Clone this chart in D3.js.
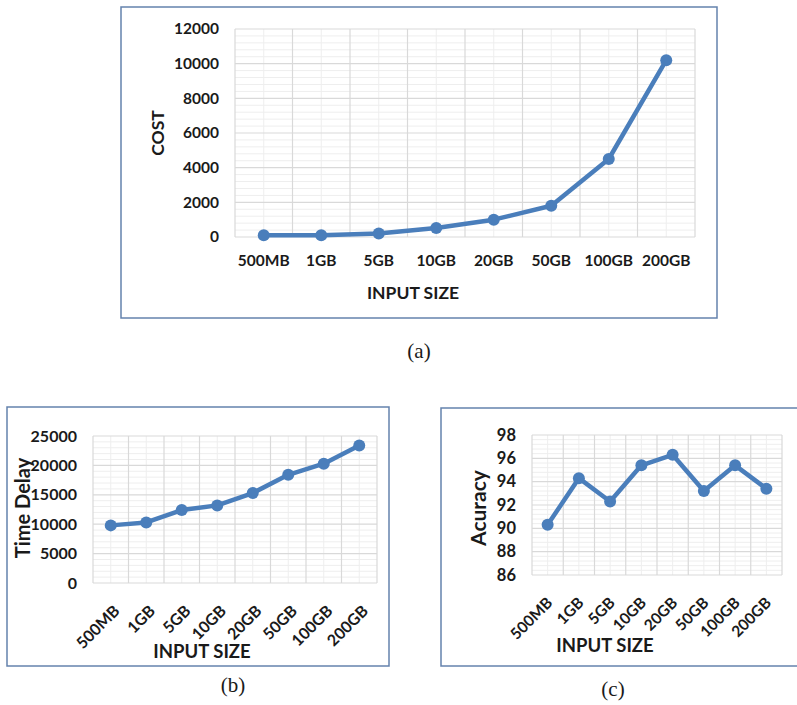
<!DOCTYPE html>
<html>
<head>
<meta charset="utf-8">
<script src="https://cdn.jsdelivr.net/npm/d3@7"></script>
<style>
  body { margin: 0; background: #ffffff; }
  svg { display: block; }
</style>
</head>
<body>
<svg id="fig" width="797" height="705"></svg>
<script>
// Input sizes shared by all three panels
const inputSizes = ["500MB", "1GB", "5GB", "10GB", "20GB", "50GB", "100GB", "200GB"];

// (a) cost per input size
const costValues = [100, 100, 200, 520, 1000, 1800, 4500, 10200];
const costTicks = [0, 2000, 4000, 6000, 8000, 10000, 12000];

// (b) time delay per input size
const timeDelayValues = [9800, 10300, 12400, 13200, 15300, 18400, 20300, 23400];
const delayTicks = [0, 5000, 10000, 15000, 20000, 25000];

// (c) accuracy per input size
const accuracyValues = [90.3, 94.3, 92.3, 95.4, 96.3, 93.2, 95.4, 93.4];
const accuracyTicks = [86, 88, 90, 92, 94, 96, 98];

const LINE_BLUE = "#4a7ebb";
const FRAME = "#6482ad";
const MAJOR_GRID = "#d9d9d9";
const MINOR_GRID = "#eeeeee";
const INK = "#1a1a1a";
const SANS = "Lato, 'Open Sans', 'DejaVu Sans', sans-serif";
const SERIF = "'Liberation Serif', 'DejaVu Serif', serif";

const svg = d3.select("#fig");

function drawPanel(cfg) {
  const g = svg.append("g");

  // outer frame of the panel
  g.append("rect")
    .attr("x", cfg.box[0]).attr("y", cfg.box[1])
    .attr("width", cfg.box[2] - cfg.box[0]).attr("height", cfg.box[3] - cfg.box[1])
    .attr("fill", "#ffffff").attr("stroke", FRAME).attr("stroke-width", 1.5);

  const ticks = cfg.ticks;
  const x = d3.scaleBand().domain(inputSizes).range([cfg.left, cfg.right]);
  const y = d3.scaleLinear().domain([ticks[0], ticks[ticks.length - 1]]).range([cfg.bottom, cfg.top]);
  const bw = x.bandwidth();

  // minor horizontal gridlines (five per major step)
  const step = ticks[1] - ticks[0];
  const minor = d3.range(ticks[0], ticks[ticks.length - 1], step / 5)
    .filter((v, i) => i % 5 !== 0);
  g.append("g").selectAll("line").data(minor).join("line")
    .attr("x1", cfg.left).attr("x2", cfg.right)
    .attr("y1", d => y(d)).attr("y2", d => y(d))
    .attr("stroke", MINOR_GRID).attr("stroke-width", 1);

  // minor vertical gridlines through category centres
  g.append("g").selectAll("line").data(inputSizes).join("line")
    .attr("x1", d => x(d) + bw / 2).attr("x2", d => x(d) + bw / 2)
    .attr("y1", cfg.top).attr("y2", cfg.bottom)
    .attr("stroke", MINOR_GRID).attr("stroke-width", 1);

  // major horizontal gridlines
  g.append("g").selectAll("line").data(ticks).join("line")
    .attr("x1", cfg.left).attr("x2", cfg.right)
    .attr("y1", d => y(d)).attr("y2", d => y(d))
    .attr("stroke", MAJOR_GRID).attr("stroke-width", 1.2);

  // major vertical gridlines at category boundaries
  const bounds = inputSizes.map(d => x(d)).concat([cfg.right]);
  g.append("g").selectAll("line").data(bounds).join("line")
    .attr("x1", d => d).attr("x2", d => d)
    .attr("y1", cfg.top).attr("y2", cfg.bottom)
    .attr("stroke", MAJOR_GRID).attr("stroke-width", 1.2);

  // value axis labels
  const yAxis = g.append("g")
    .attr("transform", `translate(${cfg.left},0)`)
    .call(d3.axisLeft(y).tickValues(ticks).tickFormat(d3.format("d")).tickSize(0).tickPadding(16));
  yAxis.select(".domain").remove();
  yAxis.attr("font-family", null).attr("font-size", null);
  yAxis.selectAll("text")
    .style("font-family", SANS)
    .attr("fill", INK).attr("font-size", cfg.tickFont).attr("font-weight", 700);

  // category axis labels
  const xAxis = g.append("g")
    .attr("transform", `translate(0,${cfg.bottom})`)
    .call(d3.axisBottom(x).tickSize(0).tickPadding(cfg.xPad));
  xAxis.select(".domain").remove();
  xAxis.attr("font-family", null).attr("font-size", null);
  const xt = xAxis.selectAll("text")
    .style("font-family", SANS)
    .attr("fill", INK).attr("font-size", cfg.xFont).attr("font-weight", 700);
  if (cfg.rotate) {
    xt.attr("text-anchor", "end").attr("y", 0).attr("dy", "0.35em")
      .attr("transform", `translate(${cfg.rotDx},${cfg.rotDy}) rotate(-45)`);
  }

  // axis titles
  g.append("text")
    .attr("x", cfg.xTitle[0]).attr("y", cfg.xTitle[1])
    .attr("text-anchor", "middle").attr("dominant-baseline", "central")
    .style("font-family", SANS)
    .attr("font-size", cfg.titleFont).attr("font-weight", 700).attr("fill", INK)
    .text("INPUT SIZE");
  g.append("text")
    .attr("transform", `translate(${cfg.yTitle[0]},${cfg.yTitle[1]}) rotate(-90)`)
    .attr("text-anchor", "middle").attr("dominant-baseline", "central")
    .style("font-family", SANS)
    .attr("font-size", cfg.yTitleFont).attr("font-weight", 700).attr("fill", INK)
    .text(cfg.yLabel);

  // series line and markers
  const pts = inputSizes.map((k, i) => ({ k, v: cfg.values[i] }));
  g.append("path")
    .datum(pts)
    .attr("d", d3.line().x(d => x(d.k) + bw / 2).y(d => y(d.v)))
    .attr("fill", "none").attr("stroke", LINE_BLUE)
    .attr("stroke-width", cfg.lineW).attr("stroke-linejoin", "round").attr("stroke-linecap", "round");
  g.append("g").selectAll("circle").data(pts).join("circle")
    .attr("cx", d => x(d.k) + bw / 2).attr("cy", d => y(d.v))
    .attr("r", cfg.r).attr("fill", LINE_BLUE);

  // panel caption
  g.append("text")
    .attr("x", cfg.caption[0]).attr("y", cfg.caption[1])
    .attr("text-anchor", "middle").attr("dominant-baseline", "central")
    .style("font-family", SERIF)
    .attr("font-size", 21).attr("fill", INK)
    .text(cfg.captionText);
}

drawPanel({
  box: [121, 7, 717, 318],
  left: 235, right: 695, top: 29, bottom: 237,
  ticks: costTicks, values: costValues, yLabel: "COST",
  tickFont: 15.5, xFont: 15.5, titleFont: 17.5, yTitleFont: 17.5, xPad: 18, rotate: false,
  xTitle: [413, 292], yTitle: [157, 133],
  lineW: 4.5, r: 6,
  caption: [419, 351], captionText: "(a)"
});

drawPanel({
  box: [7, 407, 389, 666],
  left: 93, right: 377, top: 436, bottom: 583,
  ticks: delayTicks, values: timeDelayValues, yLabel: "Time Delay",
  tickFont: 16, xFont: 16, titleFont: 18.5, yTitleFont: 20, xPad: 0, rotate: true, rotDx: 6, rotDy: 25,
  xTitle: [202, 651], yTitle: [22, 508],
  lineW: 4.5, r: 6,
  caption: [233, 685], captionText: "(b)"
});

drawPanel({
  box: [441, 408, 800, 666],
  left: 532, right: 782, top: 435, bottom: 575,
  ticks: accuracyTicks, values: accuracyValues, yLabel: "Acuracy",
  tickFont: 16.5, xFont: 15.5, titleFont: 18.5, yTitleFont: 21, xPad: 0, rotate: true, rotDx: 2, rotDy: 25,
  xTitle: [605, 645], yTitle: [477, 508],
  lineW: 4.5, r: 6,
  caption: [613, 689], captionText: "(c)"
});
</script>
</body>
</html>
